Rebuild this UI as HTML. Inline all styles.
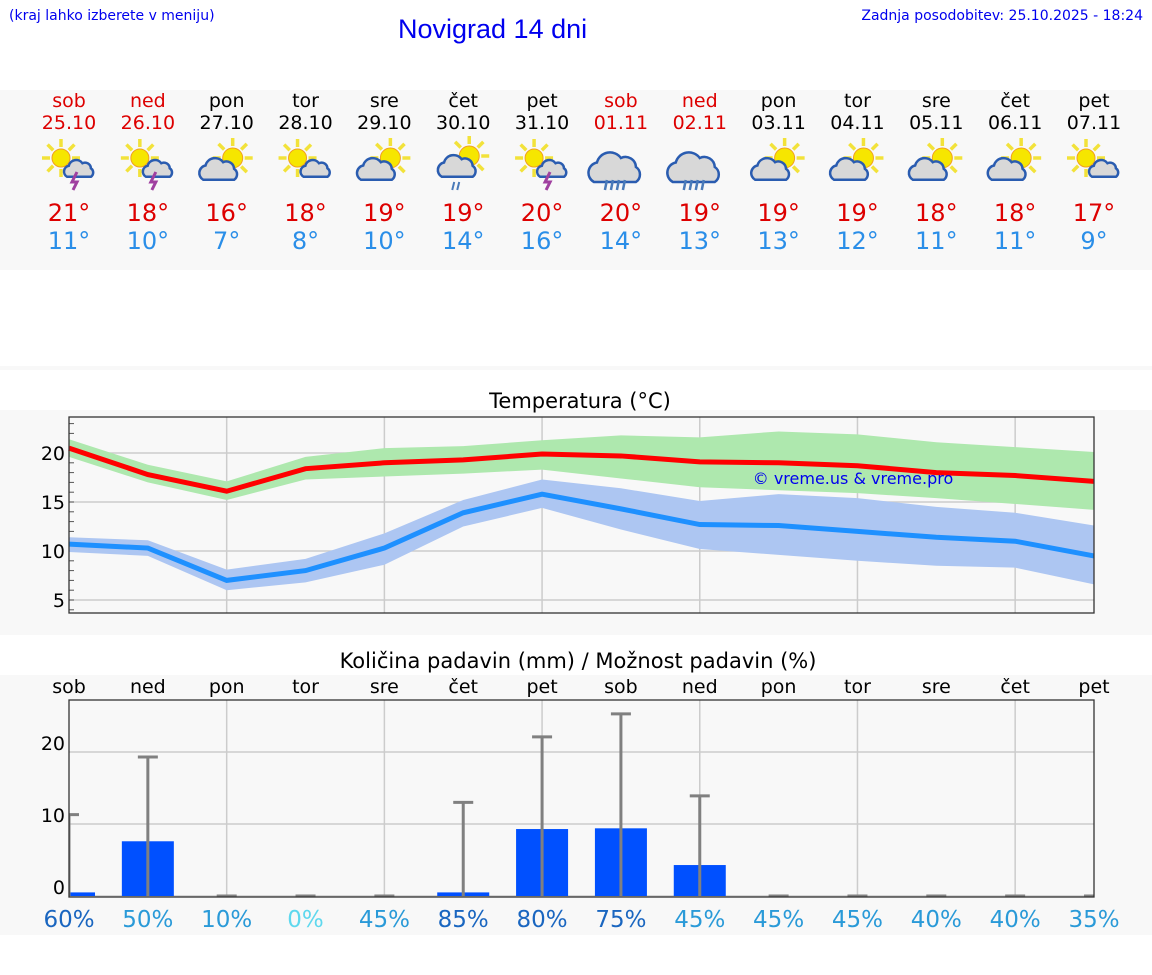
<!DOCTYPE html>
<html><head><meta charset="utf-8">
<style>
body{margin:0;width:1152px;height:975px;background:#fff;font-family:"DejaVu Sans","Liberation Sans",sans-serif;position:relative;overflow:hidden}
.abs{position:absolute}
</style></head><body>
<div class="abs" style="left:9px;top:8px;font-size:14px;color:#0000ee">(kraj lahko izberete v meniju)</div>
<div class="abs" style="left:398px;top:14px;font-size:27px;color:#0000ee;font-family:'Liberation Sans',sans-serif">Novigrad 14 dni</div>
<div class="abs" style="right:9px;top:8px;font-size:14px;color:#0000ee">Zadnja posodobitev: 25.10.2025 - 18:24</div>
<div class="abs" style="left:0;top:90px;width:1152px;height:180px;background:#f8f8f8"></div>
<div class="abs" style="left:0;top:366px;width:1152px;height:4px;background:#f8f8f8"></div>
<div class="abs" style="left:0;top:410px;width:1152px;height:225px;background:#f8f8f8"></div>
<div class="abs" style="left:0;top:675px;width:1152px;height:260px;background:#f8f8f8"></div>
<svg id="s" class="abs" style="left:0;top:0" width="1152" height="975" xmlns="http://www.w3.org/2000/svg" font-family="DejaVu Sans, Liberation Sans, sans-serif"></svg>
<script>
const days=["sob","ned","pon","tor","sre","čet","pet","sob","ned","pon","tor","sre","čet","pet"];
const dates=["25.10","26.10","27.10","28.10","29.10","30.10","31.10","01.11","02.11","03.11","04.11","05.11","06.11","07.11"];
const icons=["storm","storm","partly","small","partly","partlyrain","storm","rain","rain","partly","partly","partly","partly","small"];
const tmax=[21,18,16,18,19,19,20,20,19,19,19,18,18,17];
const tmin=[11,10,7,8,10,14,16,14,13,13,12,11,11,9];
const maxLine=[20.5,17.8,16.1,18.4,19.0,19.3,19.9,19.7,19.1,19.0,18.7,18.0,17.7,17.1];
const maxHi=[21.4,18.8,17.1,19.6,20.5,20.7,21.3,21.8,21.6,22.2,21.9,21.1,20.6,20.1];
const maxLo=[19.6,17.0,15.2,17.3,17.6,17.9,18.3,17.4,16.5,16.2,15.9,15.4,14.8,14.2];
const minLine=[10.7,10.3,7.0,8.0,10.3,13.9,15.8,14.3,12.7,12.6,12.0,11.4,11.0,9.5];
const minHi=[11.4,11.1,8.1,9.2,11.8,15.2,17.3,16.4,15.1,15.8,15.4,14.5,13.9,12.6];
const minLo=[9.9,9.5,6.0,6.8,8.6,12.5,14.4,12.2,10.2,9.6,9.0,8.5,8.3,6.6];
const tTicks=[5,10,15,20];
const precip=[0.5,7.6,0,0,0,0.5,9.3,9.4,4.3,0,0,0,0,0];
const precipMax=[11.3,19.3,0,0,0,13.0,22.1,25.3,13.9,0,0,0,0,0];
const chance=[60,50,10,0,45,85,80,75,45,45,45,40,40,35];
const pTicks=[0,10,20];
const NS="http://www.w3.org/2000/svg";
const s=document.getElementById('s');
function el(t,a,p){const e=document.createElementNS(NS,t);for(const k in a)e.setAttribute(k,a[k]);(p||s).appendChild(e);return e;}
function X(i){return 69+i*(1025/13);}
days.forEach((d,i)=>{
  const red=(d==="sob"||d==="ned");
  let t=el('text',{x:X(i),y:107,'text-anchor':'middle','font-size':19,fill:red?'#d00':'#000'});t.textContent=d;
  
  t=el('text',{x:X(i),y:129,'text-anchor':'middle','font-size':19,fill:red?'#d00':'#000'});t.textContent=dates[i];
  
  const g=el('g',{transform:`translate(${X(i)},162)`});
  
  drawIcon(g,icons[i]);
  t=el('text',{x:X(i),y:221,'text-anchor':'middle','font-size':24,fill:'#d00'});t.textContent=tmax[i]+'°';
  
  t=el('text',{x:X(i),y:249,'text-anchor':'middle','font-size':24,fill:'#2a8ee8'});t.textContent=tmin[i]+'°';
  
});
function sun(g,cx,cy,r){
  for(let k=0;k<8;k++){const a=k*Math.PI/4;el('line',{x1:cx+Math.cos(a)*(r+2),y1:cy+Math.sin(a)*(r+2),x2:cx+Math.cos(a)*(r+10),y2:cy+Math.sin(a)*(r+10),stroke:'#f2e23a','stroke-width':3.5},g);}
  el('circle',{cx,cy,r,fill:'#f6e600',stroke:'#f0a020','stroke-width':1},g);
}
function cloud(g,cx,cy,sc){
  el('path',{d:`M${cx-14*sc},${cy+8*sc} a7,7 0 0 1 2,-13 a9,9 0 0 1 16,-3 a7,7 0 0 1 10,6 a6,6 0 0 1 0,10 z`.replace(/a(\d+),(\d+) 0 0 1 (-?\d+),(-?\d+)/g,(m,a,b,c,d)=>`a${a*sc},${b*sc} 0 0 1 ${c*sc},${d*sc}`),fill:'#d8d8d8',stroke:'#2a5cb0','stroke-width':2.5},g);
}
function drawIcon(g,t){
  if(t==="storm"){sun(g,-8,-4,9);cloud(g,10,8,0.85);el('path',{d:'M8,10 l-5,10 h5 l-4,8',stroke:'#a040a0','stroke-width':3,fill:'none'},g);}
  else if(t==="small"){sun(g,-8,-4,9);cloud(g,10,8,0.85);}
  else if(t==="partly"){sun(g,6,-4,10);cloud(g,-8,9,1.1);}
  else if(t==="partlyrain"){sun(g,6,-6,10);cloud(g,-6,6,1.1);el('path',{d:'M-9,20 l-2,8 M-4,20 l-2,8',stroke:'#4a7ab8','stroke-width':2},g);}
  else {cloud(g,-6,8,1.5);el('path',{d:'M-14,18 l-2,10 M-8,18 l-2,10 M-2,18 l-2,10 M4,18 l-2,10',stroke:'#4a7ab8','stroke-width':2.5},g);}
}
let t=el('text',{x:580,y:408,'text-anchor':'middle','font-size':21,fill:'#000'});t.textContent='Temperatura (°C)';

const tL=69,tR=1094,tT=417,tB=613;
function TY(v){return 453+(20-v)*9.8;}
el('rect',{x:tL,y:tT,width:tR-tL,height:tB-tT,fill:'#f8f8f8'});
tTicks.forEach(v=>{el('line',{x1:tL,x2:tR,y1:TY(v),y2:TY(v),stroke:'#ccc','stroke-width':1.5});
  const tx=el('text',{x:tL-4,y:TY(v)+7,'text-anchor':'end','font-size':19});tx.textContent=v;
  });
for(let v=4;v<=23;v++)el('line',{x1:tL,x2:tL+5,y1:TY(v),y2:TY(v),stroke:'#555'});
for(let i=2;i<13;i+=2)el('line',{x1:X(i),x2:X(i),y1:tT,y2:tB,stroke:'#ccc','stroke-width':1.5});
function band(hi,lo,col,name){const p=hi.map((v,i)=>X(i)+','+TY(v)).concat(lo.map((v,i)=>X(i)+','+TY(v)).reverse());
  const e=el('polygon',{points:p.join(' '),fill:col});}
function line(a,col,name){const e=el('polyline',{points:a.map((v,i)=>X(i)+','+TY(v)).join(' '),fill:'none',stroke:col,'stroke-width':5});}
band(maxHi,maxLo,'#aee8ae','max-temp-range');band(minHi,minLo,'#adc6f2','min-temp-range');
line(maxLine,'#ff0000','max-temp-line');line(minLine,'#1e90ff','min-temp-line');
el('rect',{x:tL,y:tT,width:tR-tL,height:tB-tT,fill:'none',stroke:'#333','stroke-width':1.3});
t=el('text',{x:853,y:484,'text-anchor':'middle','font-size':16,fill:'#0000ee'});t.textContent='© vreme.us & vreme.pro';

t=el('text',{x:578,y:668,'text-anchor':'middle','font-size':21,fill:'#000'});t.textContent='Količina padavin (mm) / Možnost padavin (%)';

const pT=700,pB=897;
function PY(v){return 896-v*7.2;}
days.forEach((d,i)=>{const e=el('text',{x:X(i),y:693,'text-anchor':'middle','font-size':19});e.textContent=d;
  });
pTicks.forEach(v=>{el('line',{x1:tL,x2:tR,y1:PY(v),y2:PY(v),stroke:'#ccc','stroke-width':1.5});
  const tx=el('text',{x:tL-4,y:PY(v)-2,'text-anchor':'end','font-size':19});tx.textContent=v;
  });
for(let i=2;i<13;i+=2)el('line',{x1:X(i),x2:X(i),y1:pT,y2:pB,stroke:'#ccc','stroke-width':1.5});
const cg=el('g',{'clip-path':'url(#pc)'});
const cp=el('clipPath',{id:'pc'});el('rect',{x:tL,y:pT,width:tR-tL,height:pB-pT+2},cp);
precip.forEach((v,i)=>{
  if(v>0){const b=el('rect',{x:X(i)-26,y:PY(v),width:52,height:896-PY(v),fill:'#0050ff'},cg);
    }
  const m=precipMax[i];
  const eg=el('g',{stroke:'#808080','stroke-width':3},cg);
  
  el('line',{x1:X(i),x2:X(i),y1:PY(0),y2:PY(m)},eg);el('line',{x1:X(i)-10,x2:X(i)+10,y1:PY(m),y2:PY(m)},eg);
});
el('rect',{x:tL,y:pT,width:tR-tL,height:pB-pT,fill:'none',stroke:'#333','stroke-width':1.3});
function pcol(c){return c>=60?'#1a66c0':c>=10?'#2a9ad8':'#5fd8ee';}
chance.forEach((c,i)=>{const e=el('text',{x:X(i),y:927,'text-anchor':'middle','font-size':23,fill:pcol(c)});e.textContent=c+'%';
  });
</script>
</body></html>
